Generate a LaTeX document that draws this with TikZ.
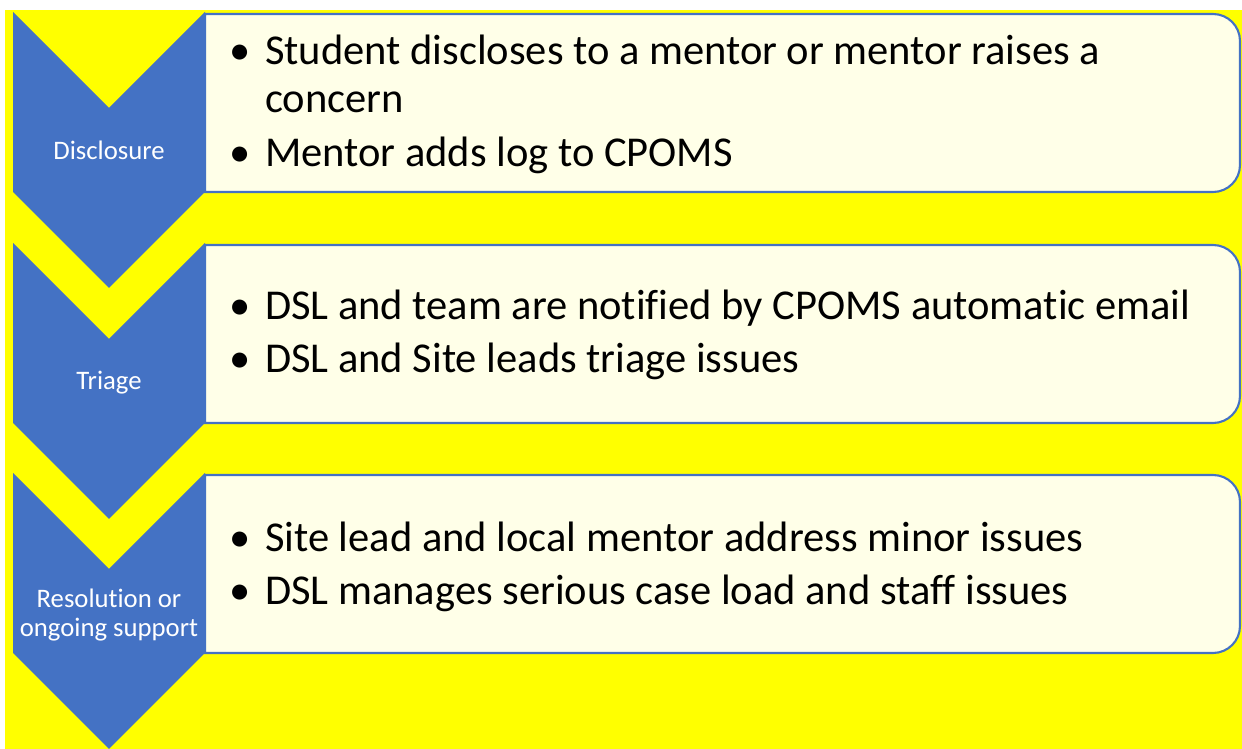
\documentclass[tikz,border=0pt]{standalone}
\usepackage{fontspec}
\setmainfont{Carlito}[Ligatures=NoCommon]
\newcommand{\bulletmark}{\makebox[28.35pt][c]{\textbullet}}
\newcommand{\hangmark}{\hspace*{28.35pt}}

\begin{document}
\begin{tikzpicture}[x=0.02cm,y=-0.02cm,
    stepshape/.style={fill=sg_blue},
    stepbox/.style={draw=sg_blue,line width=1.2pt,fill=sg_cream},
    steplabel/.style={text=white,align=center,inner sep=0pt,font=\fontsize{15.2}{16}\selectfont},
    stepitems/.style={anchor=west,align=left,inner sep=0pt,font=\fontsize{24.2}{27.8}\selectfont}]
    \definecolor{sg_blue}{RGB}{68,114,196}
    \definecolor{sg_yellow}{RGB}{255,255,0}
    \definecolor{sg_cream}{RGB}{255,255,232}
    \useasboundingbox (0,0) rectangle (1242,749);
    \fill[white] (0,0) rectangle (1242,749);
    \fill[sg_yellow] (5,10) rectangle (1242,749);
    % text boxes, square on the left where the chevrons sit
    \foreach \t in {12,243,473}
        \draw[stepbox] (205,\t+2) [rounded corners=0.54cm] -- (1240,\t+2) -- (1240,\t+180) [sharp corners] -- (205,\t+180) -- cycle;
    % chevrons
    \foreach \t in {12,243,473}
        \fill[stepshape] (13,\t) -- (109,\t+96) -- (205,\t) -- (205,\t+180) -- (109,\t+276) -- (13,\t+180) -- cycle;
    \node[steplabel] (disclosure) at (109,150) {Disclosure};
    \node[steplabel] (triage) at (109,383) {Triage};
    \node[steplabel] (resolution) at (109,615) {Resolution or\\ongoing support};
    \node[stepitems] (disclosure_items) at (215,104) {\bulletmark Student discloses to a mentor or mentor raises a\\\hangmark concern\\[2.5pt]\bulletmark Mentor adds log to CPOMS};
    \node[stepitems] (triage_items) at (215,335) {\bulletmark DSL and team are notified by CPOMS automatic email\\[2.5pt]\bulletmark DSL and Site leads triage issues};
    \node[stepitems] (resolution_items) at (215,567) {\bulletmark Site lead and local mentor address minor issues\\[2.5pt]\bulletmark DSL manages serious case load and staff issues};
\end{tikzpicture}
\end{document}
